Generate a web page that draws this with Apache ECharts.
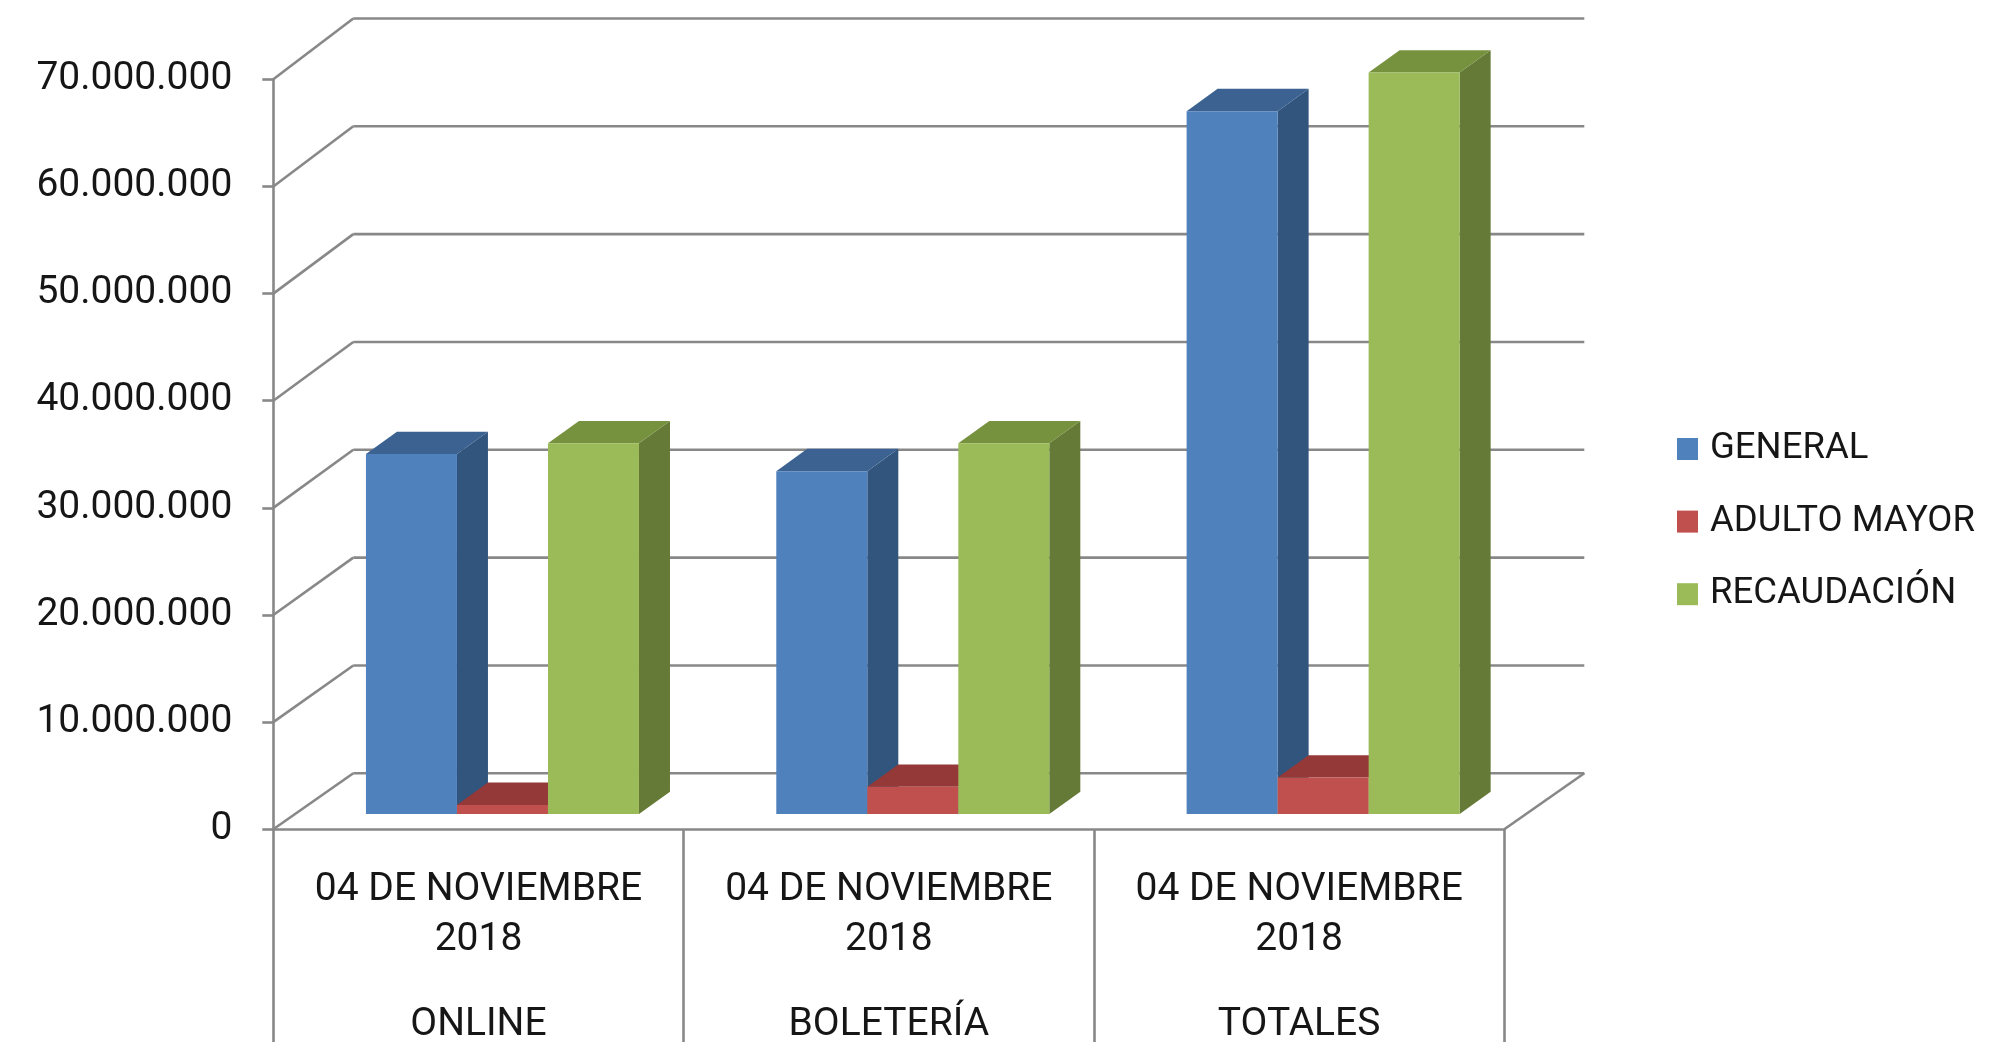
<!DOCTYPE html>
<html>
<head>
<meta charset="utf-8">
<style>
  html, body { margin: 0; padding: 0; background: #ffffff; }
  #chart { width: 2010px; height: 1042px; }
</style>
<script src="https://cdn.jsdelivr.net/npm/echarts@6/dist/echarts.min.js"></script>
</head>
<body>
<div id="chart"></div>
<script>
// Ticket sales, 04 November 2018
const categories = ['ONLINE', 'BOLETERÍA', 'TOTALES'];
const dateLabels = ['04 DE NOVIEMBRE\n2018', '04 DE NOVIEMBRE\n2018', '04 DE NOVIEMBRE\n2018'];
const seriesNames = ['GENERAL', 'ADULTO MAYOR', 'RECAUDACIÓN'];
const general = [33600000, 32000000, 65600000];
const adultoMayor = [850000, 2550000, 3400000];
const recaudacion = [34600000, 34600000, 69200000];
const yTicks = [0, 10000000, 20000000, 30000000, 40000000, 50000000, 60000000, 70000000];

// Faux-3D geometry (pixels)
const WALL_DX = 80, WALL_DY = -56, BACK_SCALE = 1.0065;   // back wall offset
const FACE_DX = 24, FACE_DY = -15.3;                      // bar front faces sit inside the box
const BAR_DX = 31, BAR_DY = -22.3;                        // bar depth
const BAR_RATIO = 91 / 410.3;                             // one bar's share of a category band
const LINE = '#888888';
const LINE_W = 2.6;
const TEXT = '#161616';
const FONT = 'Roboto';

const palettes = [
  { front: '#4F81BD', top: '#3B6291', side: '#32557E' },
  { front: '#C0504D', top: '#943937', side: '#7F312F' },
  { front: '#9BBB59', top: '#77923F', side: '#657A36' }
];

const fmt = v => String(v).replace(/\B(?=(\d{3})+(?!\d))/g, '.');

function barRenderer(slot, pal) {
  return function (params, api) {
    const cat = api.value(0), val = api.value(1);
    const top = api.coord([cat, val]);
    const base = api.coord([cat, 0]);
    const band = api.size([1, 0])[0];
    const bw = band * BAR_RATIO;
    const x0 = top[0] - 1.5 * bw + slot * bw + FACE_DX;
    const x1 = x0 + bw;
    const yT = top[1] + FACE_DY;
    const yB = base[1] + FACE_DY;
    return {
      type: 'group',
      children: [
        { type: 'polygon', shape: { points: [[x1, yT], [x1 + BAR_DX, yT + BAR_DY], [x1 + BAR_DX, yB + BAR_DY], [x1, yB]] },
          style: { fill: pal.side } },
        { type: 'polygon', shape: { points: [[x0, yT], [x0 + BAR_DX, yT + BAR_DY], [x1 + BAR_DX, yT + BAR_DY], [x1, yT]] },
          style: { fill: pal.top } },
        { type: 'rect', shape: { x: x0, y: yT, width: bw, height: yB - yT },
          style: { fill: pal.front } }
      ]
    };
  };
}

// Back wall gridlines, the diagonals joining them to the front axis, and the floor edge
function wallRenderer(params, api) {
  const cs = params.coordSys;
  const t = api.value(1);
  const y = api.coord([0, t])[1];
  const y0 = api.coord([0, 0])[1];
  const yb = y0 + WALL_DY + (y - y0) * BACK_SCALE;
  const left = cs.x, right = cs.x + cs.width;
  const style = { stroke: LINE, lineWidth: LINE_W, fill: null };
  const children = [
    { type: 'line', shape: { x1: left, y1: y, x2: left + WALL_DX, y2: yb }, style },
    { type: 'line', shape: { x1: left + WALL_DX, y1: yb, x2: right + WALL_DX, y2: yb }, style }
  ];
  if (t === 0) {
    children.push({ type: 'line', shape: { x1: right, y1: y0, x2: right + WALL_DX, y2: y0 + WALL_DY }, style });
  }
  return { type: 'group', children };
}

const valueSets = [general, adultoMayor, recaudacion];

const chart = echarts.init(document.getElementById('chart'), null, { renderer: 'canvas' });
chart.setOption({
  backgroundColor: '#ffffff',
  animation: false,
  textStyle: { fontFamily: FONT },
  grid: {
    left: 273.3, right: 505.7, top: 79.3, bottom: 212.7,
    containLabel: false, outerBoundsMode: 'none'
  },
  legend: {
    orient: 'vertical',
    left: 1677, top: 430.5,
    padding: 0,
    itemWidth: 21, itemHeight: 22, itemGap: 35.6,
    icon: 'rect',
    data: seriesNames,
    textStyle: { fontFamily: FONT, fontSize: 36.5, color: TEXT, padding: [0, 0, 0, 7] }
  },
  xAxis: [
    {
      type: 'category', data: categories, position: 'bottom',
      axisLine: { show: true, lineStyle: { color: LINE, width: LINE_W } },
      axisTick: { show: true, interval: 0, length: 215, lineStyle: { color: LINE, width: LINE_W } },
      axisLabel: {
        interval: 0, hideOverlap: false,
        margin: 36, fontFamily: FONT, fontSize: 39, lineHeight: 50, color: TEXT,
        formatter: (v, i) => dateLabels[i]
      },
      splitLine: { show: false }
    },
    {
      type: 'category', data: categories, position: 'bottom',
      axisLine: { show: false }, axisTick: { show: false },
      axisLabel: { interval: 0, hideOverlap: false, margin: 171, fontFamily: FONT, fontSize: 39, lineHeight: 50, color: TEXT },
      splitLine: { show: false }
    }
  ],
  yAxis: {
    type: 'value', min: 0, max: 70000000, interval: 10000000,
    axisLine: { show: true, lineStyle: { color: LINE, width: LINE_W } },
    axisTick: { show: true, length: 11, lineStyle: { color: LINE, width: LINE_W } },
    axisLabel: { margin: 41, fontFamily: FONT, fontSize: 39, color: TEXT, formatter: fmt },
    splitLine: { show: false }
  },
  series: [
    {
      type: 'custom', name: '_wall', silent: true, z: 1,
      renderItem: wallRenderer,
      data: yTicks.map(t => [0, t]),
      encode: { x: 0, y: 1 }
    }
  ].concat(seriesNames.map((name, i) => ({
    type: 'custom', name, z: 2,
    itemStyle: { color: palettes[i].front },
    renderItem: barRenderer(i, palettes[i]),
    data: valueSets[i].map((v, c) => [c, v]),
    encode: { x: 0, y: 1 }
  })))
});
</script>
</body>
</html>
